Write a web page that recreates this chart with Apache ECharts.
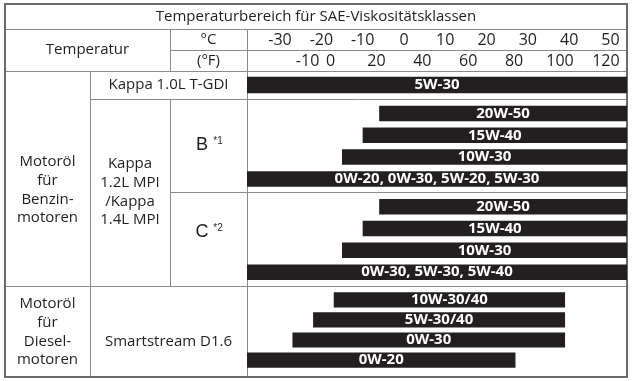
<!DOCTYPE html>
<html>
<head>
<meta charset="utf-8">
<script src="https://cdn.jsdelivr.net/npm/echarts@6/dist/echarts.min.js"></script>
<style>
html,body{margin:0;padding:0;background:#fff;}
#chart{width:633px;height:381px;}
</style>
</head>
<body>
<div id="chart"></div>
<script>
// ---- data (temperatures in °C) ----
const tempC = [-30, -20, -10, 0, 10, 20, 30, 40, 50];
const tempF = [-10, 0, 20, 40, 60, 80, 100, 120];

const kappa10Labels = ['5W-30'];
const kappa10Start = [-38];
const kappa10End = [54];

const benzinBLabels = ['20W-50', '15W-40', '10W-30', '0W-20, 0W-30, 5W-20, 5W-30'];
const benzinBStart = [-6, -10, -15, -38];
const benzinBEnd = [54, 54, 54, 54];

const benzinCLabels = ['20W-50', '15W-40', '10W-30', '0W-30, 5W-30, 5W-40'];
const benzinCStart = [-6, -10, -15, -38];
const benzinCEnd = [54, 54, 54, 54];

const dieselLabels = ['10W-30/40', '5W-30/40', '0W-30', '0W-20'];
const dieselStart = [-17, -22, -27, -38];
const dieselEnd = [39, 39, 39, 27];

// axis range
const C_MIN = -38, C_MAX = 54;
const F_MIN = C_MIN * 1.8 + 32, F_MAX = C_MAX * 1.8 + 32;

const FONT = '"Open Sans", "DejaVu Sans", sans-serif';
const TXT = '#1f1f1f';
const LINE = '#8a8a8a';
const BAR = '#231f20';

const chart = echarts.init(document.getElementById('chart'), null, {renderer: 'canvas'});

function rows(labels, starts, ends) {
  return labels.map((l, i) => [i, starts[i], ends[i]]);
}
function renderer(labels, h) {
  return function (params, api) {
    const row = api.value(0);
    const s = api.coord([api.value(1), row]);
    const e = api.coord([api.value(2), row]);
    return {
      type: 'rect',
      shape: {x: s[0], y: s[1] - h / 2, width: e[0] - s[0], height: h},
      style: {fill: BAR},
      textContent: {
        type: 'text',
        style: {text: labels[params.dataIndex], fill: '#fff', fontSize: 15, fontWeight: 'bold', fontFamily: FONT}
      },
      textConfig: {position: 'inside'}
    };
  };
}

const gridLeft = 247, gridWidth = 380;
const grids = [
  {left: gridLeft, width: gridWidth, top: 50, height: 1},
  {left: gridLeft, width: gridWidth, top: 71, height: 28},
  {left: gridLeft, width: gridWidth, top: 102.5, height: 87.3},
  {left: gridLeft, width: gridWidth, top: 195.8, height: 87.3},
  {left: gridLeft, width: gridWidth, top: 289.8, height: 80.3}
];
const hidden = {axisLine: {show: false}, axisTick: {show: false}, axisLabel: {show: false}, splitLine: {show: false}};
const headLabel = {margin: 10, verticalAlign: 'middle', fontSize: 16, color: TXT, fontFamily: FONT, hideOverlap: false};
const xAxes = [
  {gridIndex: 0, type: 'value', position: 'top', min: C_MIN, max: C_MAX,
    axisLine: {show: false}, axisTick: {show: false}, splitLine: {show: false},
    axisLabel: Object.assign({customValues: tempC}, headLabel)},
  {gridIndex: 0, type: 'value', position: 'bottom', min: F_MIN, max: F_MAX,
    axisLine: {show: false}, axisTick: {show: false}, splitLine: {show: false},
    axisLabel: Object.assign({customValues: tempF}, headLabel)}
];
const yAxes = [{gridIndex: 0, type: 'value', ...hidden}];
const groups = [
  [kappa10Labels, kappa10Start, kappa10End, 16.5],
  [benzinBLabels, benzinBStart, benzinBEnd, 15.5],
  [benzinCLabels, benzinCStart, benzinCEnd, 15.5],
  [dieselLabels, dieselStart, dieselEnd, 15.2]
];
const series = [];
groups.forEach((g, i) => {
  const gi = i + 1;
  xAxes.push({gridIndex: gi, type: 'value', min: C_MIN, max: C_MAX, ...hidden});
  yAxes.push({gridIndex: gi, type: 'category', inverse: true, data: g[0].map((_, k) => k), ...hidden});
  series.push({
    type: 'custom',
    xAxisIndex: xAxes.length - 1,
    yAxisIndex: yAxes.length - 1,
    data: rows(g[0], g[1], g[2]),
    encode: {x: [1, 2], y: 0},
    renderItem: renderer(g[0], g[3]),
    clip: false,
    silent: true,
    z: 5
  });
});

function hl(y, x1, x2) { return {type: 'line', z: 1, shape: {x1: x1, y1: y, x2: x2, y2: y}, style: {stroke: LINE, lineWidth: 1}}; }
function vl(x, y1, y2) { return {type: 'line', z: 1, shape: {x1: x, y1: y1, x2: x, y2: y2}, style: {stroke: LINE, lineWidth: 1}}; }
function txt(x, y, text, size, family) {
  const st = {text: text, fill: TXT, fontSize: size, fontFamily: family || FONT, align: 'center', verticalAlign: 'middle'};
  if (text.indexOf('\n') >= 0) st.lineHeight = 18.7;
  return {type: 'text', z: 3, x: x, y: y, style: st};
}
const ARIAL = '"Liberation Sans", Arial, sans-serif';

const graphic = [
  hl(29.5, 5, 627), hl(50.5, 170, 627), hl(71.5, 5, 627), hl(99.5, 90, 627),
  hl(192.5, 170, 627), hl(286.5, 5, 627),
  vl(90.5, 71, 377), vl(170.5, 29, 71), vl(170.5, 99, 286), vl(247.5, 29, 377),
  {type: 'rect', z: 2, shape: {x: 5, y: 4, width: 622, height: 373}, style: {fill: 'none', stroke: '#6a6a6a', lineWidth: 2}},
  txt(316, 16.5, 'Temperaturbereich für SAE-Viskositätsklassen', 15),
  txt(87.5, 50, 'Temperatur', 15),
  txt(208.5, 40, '°C', 15),
  txt(208.5, 61, '(°F)', 15),
  txt(168.5, 85, 'Kappa 1.0L T-GDI', 15),
  txt(47.5, 190, 'Motoröl\nfür\nBenzin-\nmotoren', 15),
  txt(130, 192, 'Kappa\n1.2L MPI\n/Kappa\n1.4L MPI', 15),
  txt(202, 145, 'B', 18, ARIAL),
  txt(218, 141, '*1', 10, ARIAL),
  txt(202, 232, 'C', 18, ARIAL),
  txt(218, 228, '*2', 10, ARIAL),
  txt(47.5, 332, 'Motoröl\nfür\nDiesel-\nmotoren', 15),
  txt(168.5, 342, 'Smartstream D1.6', 15)
];

chart.setOption({
  backgroundColor: '#fff',
  animation: false,
  grid: grids,
  xAxis: xAxes,
  yAxis: yAxes,
  series: series,
  graphic: graphic
});
</script>
</body>
</html>
